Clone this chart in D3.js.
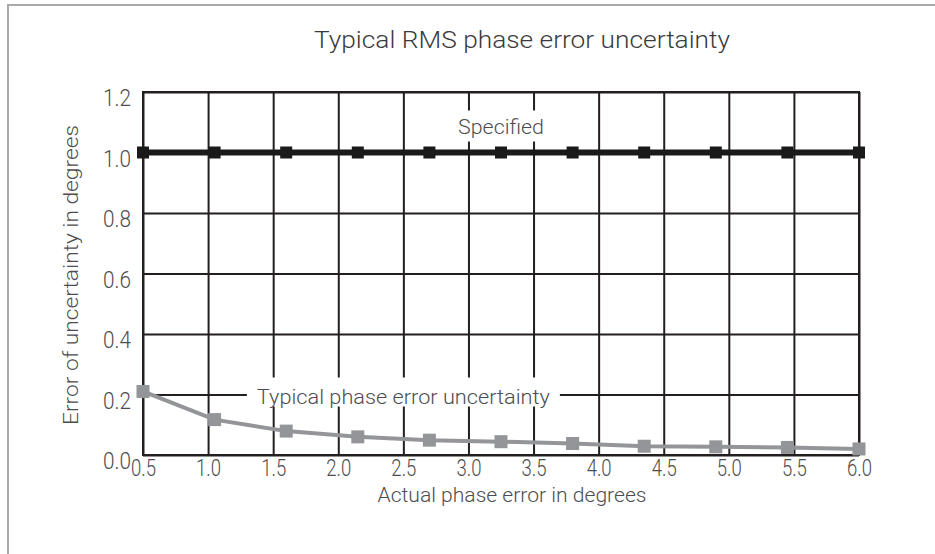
<!DOCTYPE html>
<html>
<head>
<meta charset="utf-8">
<script src="https://cdn.jsdelivr.net/npm/d3@7"></script>
<style>
  body { margin: 0; background: #fff; }
  svg { display: block; font-family: Roboto, "Noto Sans", sans-serif; font-weight: 300; }
</style>
</head>
<body>
<svg id="chart" width="935" height="554"></svg>
<script>
// Chart data
var xTicks = [0.5, 1.0, 1.5, 2.0, 2.5, 3.0, 3.5, 4.0, 4.5, 5.0, 5.5, 6.0];
var yTicks = [0.0, 0.2, 0.4, 0.6, 0.8, 1.0, 1.2];
// the markers are spread evenly over the axis, not on the grid lines
var markerX = [0.5, 1.05, 1.6, 2.15, 2.7, 3.25, 3.8, 4.35, 4.9, 5.45, 6.0];
var specified = [1.0, 1.0, 1.0, 1.0, 1.0, 1.0, 1.0, 1.0, 1.0, 1.0, 1.0];
var typical = [0.21, 0.117, 0.079, 0.060, 0.049, 0.044, 0.038, 0.029, 0.027, 0.025, 0.020];

var margin = { top: 92, right: 76, bottom: 99, left: 143 };
var width = 935 - margin.left - margin.right;
var height = 554 - margin.top - margin.bottom;
var gridColor = "#231f20";
var textColor = "#4d4d4f";

var svg = d3.select("#chart");

// Outer frame (top and left rule only)
svg.append("path")
  .attr("d", "M8,554V5H935")
  .attr("fill", "none")
  .attr("stroke", "#a7a9ac")
  .attr("stroke-width", 2);

var xScale = d3.scaleLinear().domain([0.5, 6.0]).range([0, width]);
var yScale = d3.scaleLinear().domain([0, 1.2]).range([height, 0]);

var canvas = svg.append("g")
  .attr("transform", "translate(" + margin.left + "," + margin.top + ")");

// Axes double as grid lines
var xAxis = d3.axisBottom(xScale)
  .tickValues(xTicks)
  .tickSize(-height)
  .tickPadding(5)
  .tickFormat(d3.format(".1f"));
var yAxis = d3.axisLeft(yScale)
  .tickValues(yTicks)
  .tickSize(-width)
  .tickPadding(12)
  .tickFormat(d3.format(".1f"));

canvas.append("g")
  .attr("class", "x axis")
  .attr("transform", "translate(0," + height + ")")
  .call(xAxis);
canvas.append("g")
  .attr("class", "y axis")
  .call(yAxis);

canvas.selectAll(".axis .domain").remove();
canvas.selectAll(".axis line")
  .attr("stroke", gridColor)
  .attr("stroke-width", 2);
canvas.selectAll(".axis text")
  .attr("fill", textColor)
  .attr("lengthAdjust", "spacingAndGlyphs")
  .style("font-size", "23px")
  .style("font-family", "Roboto, sans-serif")
  .style("font-weight", 300);
// the original face is a narrow one, so squeeze the digits a little
canvas.selectAll(".x.axis text").attr("textLength", 25);
canvas.selectAll(".y.axis text").attr("textLength", 28).attr("dy", "0.6em");

// Plot border
canvas.append("rect")
  .attr("width", width)
  .attr("height", height)
  .attr("fill", "none")
  .attr("stroke", gridColor)
  .attr("stroke-width", 2);

// In-chart labels with a white box that hides the grid behind them
function addLabel(text, x, y, len, padX, boxTop, boxBottom) {
  var box = canvas.append("rect").attr("fill", "#fff");
  var t = canvas.append("text")
    .attr("x", x)
    .attr("y", y)
    .attr("text-anchor", "middle")
    .attr("fill", textColor)
    .attr("textLength", len)
    .attr("lengthAdjust", "spacingAndGlyphs")
    .style("font-size", "21px")
    .text(text);
  box.attr("x", x - len / 2 - padX)
    .attr("width", len + 2 * padX)
    .attr("y", y - boxTop)
    .attr("height", boxTop + boxBottom);
  return t;
}
addLabel("Specified", xScale(3.25), yScale(1.0) - 19, 86, 6, 23, 8);
addLabel("Typical phase error uncertainty", xScale(2.5), yScale(0.2) + 9, 293, 10, 26, 3);

// Series lines
var line = d3.line()
  .x(function(d) { return xScale(d.x); })
  .y(function(d) { return yScale(d.y); });

function pairs(values) {
  return values.map(function(v, i) { return { x: markerX[i], y: v }; });
}

var series = [
  { name: "specified", values: pairs(specified), color: "#1a1a1a", width: 6, size: 12 },
  { name: "typical", values: pairs(typical), color: "#939598", width: 4, size: 13 }
];

series.forEach(function(s) {
  var g = canvas.append("g").attr("class", s.name);
  g.append("path")
    .attr("d", line(s.values))
    .attr("fill", "none")
    .attr("stroke", s.color)
    .attr("stroke-width", s.width);
  g.selectAll("rect")
    .data(s.values).enter()
    .append("rect")
      .attr("x", function(d) { return xScale(d.x) - s.size / 2; })
      .attr("y", function(d) { return yScale(d.y) - s.size / 2; })
      .attr("width", s.size)
      .attr("height", s.size)
      .attr("fill", s.color);
});

// Titles
svg.append("text")
  .attr("x", 522)
  .attr("y", 48)
  .attr("text-anchor", "middle")
  .attr("fill", "#3a3a3c")
  .attr("textLength", 416)
  .attr("lengthAdjust", "spacingAndGlyphs")
  .style("font-size", "24px")
  .text("Typical RMS phase error uncertainty");

svg.append("text")
  .attr("x", 512)
  .attr("y", 502)
  .attr("text-anchor", "middle")
  .attr("fill", textColor)
  .attr("textLength", 269)
  .attr("lengthAdjust", "spacingAndGlyphs")
  .style("font-size", "21px")
  .text("Actual phase error in degrees");

svg.append("text")
  .attr("transform", "translate(78,275) rotate(-90)")
  .attr("text-anchor", "middle")
  .attr("fill", textColor)
  .attr("textLength", 300)
  .attr("lengthAdjust", "spacingAndGlyphs")
  .style("font-size", "21px")
  .text("Error of uncertainty in degrees");
</script>
</body>
</html>
